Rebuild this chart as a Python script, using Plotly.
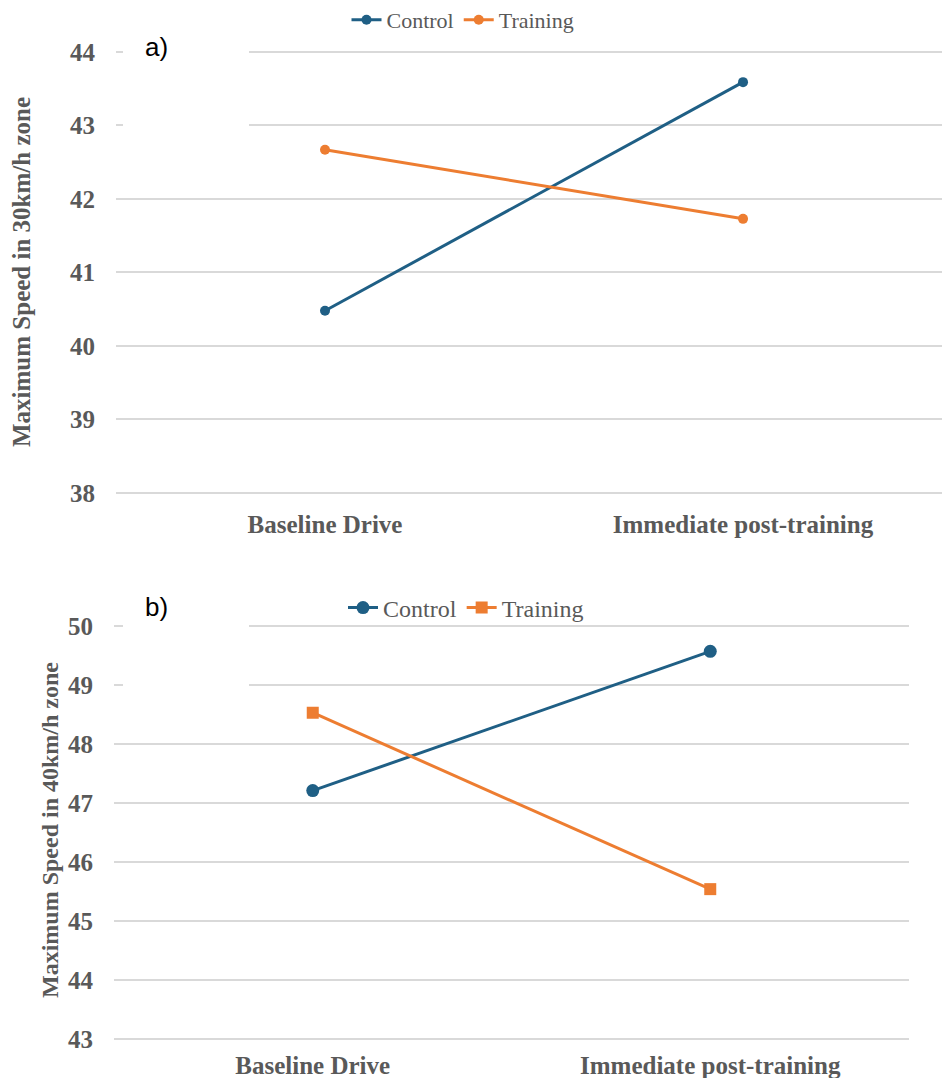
import plotly.graph_objects as go

# Conditions on the x axis
conditions = ["Baseline Drive", "Immediate post-training"]

# a) Maximum speed in the 30 km/h zone
control_30 = [40.48, 43.59]
training_30 = [42.67, 41.73]

# b) Maximum speed in the 40 km/h zone
control_40 = [47.21, 49.57]
training_40 = [48.53, 45.54]

BLUE = "#1f5f85"
ORANGE = "#ed7d31"
GRID = "#d9d9d9"
TXT = "#595959"
SERIF = "Liberation Serif"

W, H = 942, 1078


def px(x):
    return x / W


def py(y):
    return (H - y) / H


# small padding so the gridlines at both ends of each y range are drawn
PAD = 0.03
TOP_UNIT = (493 - 52) / 6.0
BOT_UNIT = (1039 - 626) / 7.0

fig = go.Figure()

# Top panel
fig.add_trace(go.Scatter(x=conditions, y=control_30, name="Control", mode="lines+markers",
                         line=dict(color=BLUE, width=3), marker=dict(size=10, symbol="circle"),
                         xaxis="x", yaxis="y", legend="legend"))
fig.add_trace(go.Scatter(x=conditions, y=training_30, name="Training", mode="lines+markers",
                         line=dict(color=ORANGE, width=3), marker=dict(size=10, symbol="circle"),
                         xaxis="x", yaxis="y", legend="legend"))

# Bottom panel
fig.add_trace(go.Scatter(x=conditions, y=control_40, name="Control", mode="lines+markers",
                         line=dict(color=BLUE, width=3), marker=dict(size=13, symbol="circle"),
                         xaxis="x2", yaxis="y2", legend="legend2"))
fig.add_trace(go.Scatter(x=conditions, y=training_40, name="Training", mode="lines+markers",
                         line=dict(color=ORANGE, width=3), marker=dict(size=12, symbol="square"),
                         xaxis="x2", yaxis="y2", legend="legend2"))

tick_font = dict(family=SERIF, size=25, color=TXT, weight="bold")

fig.update_layout(
    width=W, height=H,
    margin=dict(l=0, r=0, t=0, b=0, autoexpand=False),
    paper_bgcolor="white", plot_bgcolor="white",
    showlegend=True,
    xaxis=dict(domain=[px(116), 1.0], type="category", range=[-0.5, 1.476],
               showgrid=False, showline=False, zeroline=False, ticks="",
               tickfont=tick_font, ticklabelstandoff=12, anchor="y", automargin=False),
    yaxis=dict(domain=[py(493 + PAD * TOP_UNIT), py(52 - PAD * TOP_UNIT)],
               range=[38 - PAD, 44 + PAD], tickvals=[38, 39, 40, 41, 42, 43, 44],
               showgrid=True, gridcolor=GRID, gridwidth=2, zeroline=False,
               showline=False, ticks="", tickfont=tick_font, ticklabelstandoff=20,
               anchor="x", automargin=False),
    xaxis2=dict(domain=[px(114), px(909)], type="category", range=[-0.5, 1.5],
                showgrid=False, showline=False, zeroline=False, ticks="",
                tickfont=tick_font, ticklabelstandoff=7, anchor="y2", automargin=False),
    yaxis2=dict(domain=[py(1039 + PAD * BOT_UNIT), py(626 - PAD * BOT_UNIT)],
                range=[43 - PAD, 50 + PAD], tickvals=[43, 44, 45, 46, 47, 48, 49, 50],
                showgrid=True, gridcolor=GRID, gridwidth=2, zeroline=False,
                showline=False, ticks="", tickfont=tick_font, ticklabelstandoff=20,
                anchor="x2", automargin=False),
    legend=dict(orientation="h", x=px(463), xanchor="center", y=py(20), yanchor="middle",
                font=dict(family=SERIF, size=22, color=TXT), bgcolor="rgba(0,0,0,0)",
                itemwidth=30),
    legend2=dict(orientation="h", x=px(466), xanchor="center", y=py(608), yanchor="middle",
                 font=dict(family=SERIF, size=24, color=TXT), bgcolor="rgba(0,0,0,0)",
                 itemwidth=30),
)

# White label boxes that sit over the upper gridlines (no data reaches this area)
fig.add_shape(type="rect", xref="paper", yref="paper",
              x0=px(123), x1=px(249), y0=py(140), y1=py(30),
              fillcolor="white", line=dict(width=0), layer="above")
fig.add_shape(type="rect", xref="paper", yref="paper",
              x0=px(123), x1=px(249), y0=py(715), y1=py(590),
              fillcolor="white", line=dict(width=0), layer="above")

fig.add_annotation(text="a)", xref="paper", yref="paper", x=px(143), y=py(47),
                   xanchor="left", yanchor="middle", showarrow=False,
                   font=dict(family="Liberation Sans", size=26, color="black"))
fig.add_annotation(text="b)", xref="paper", yref="paper", x=px(143), y=py(607),
                   xanchor="left", yanchor="middle", showarrow=False,
                   font=dict(family="Liberation Sans", size=26, color="black"))

# Axis titles
fig.add_annotation(text="Maximum Speed in 30km/h zone", xref="paper", yref="paper",
                   x=px(22), y=py(272), xanchor="center", yanchor="middle", textangle=-90,
                   showarrow=False, font=dict(family=SERIF, size=25, color=TXT, weight="bold"))
fig.add_annotation(text="Maximum Speed in 40km/h zone", xref="paper", yref="paper",
                   x=px(50), y=py(830), xanchor="center", yanchor="middle", textangle=-90,
                   showarrow=False, font=dict(family=SERIF, size=24, color=TXT, weight="bold"))

fig.write_html("out.html")
